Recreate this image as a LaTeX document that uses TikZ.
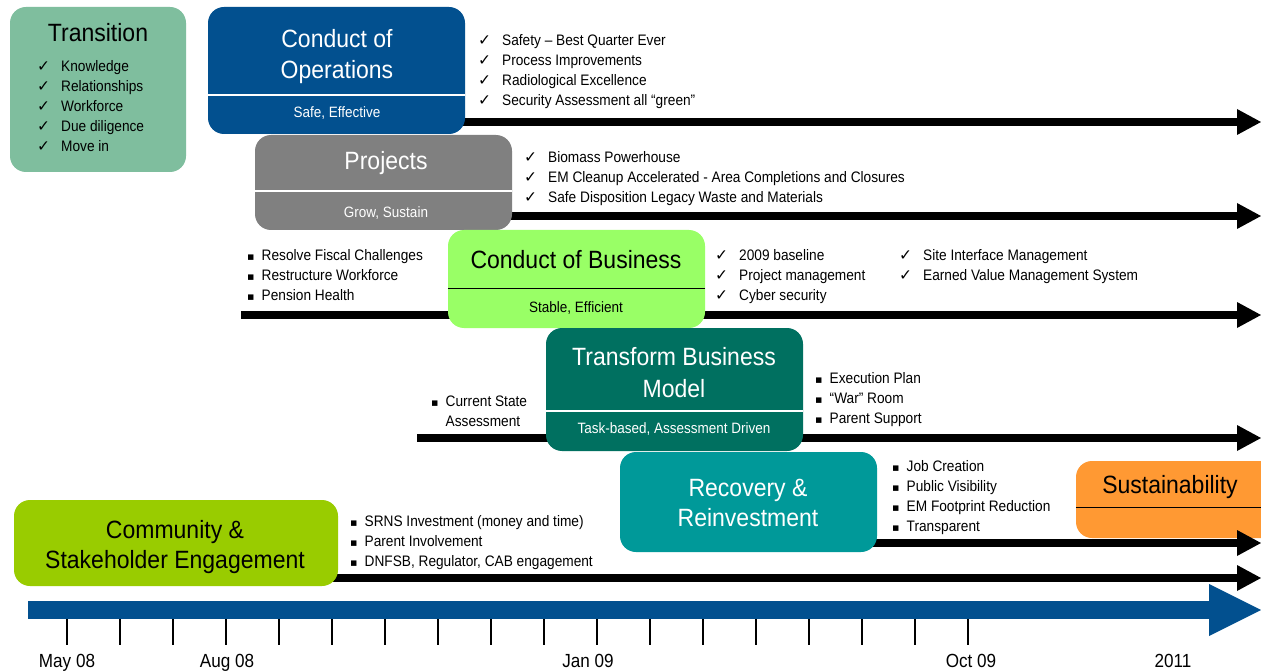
\documentclass[tikz,border=0pt]{standalone}
\usepackage{fontspec}
\setmainfont{Liberation Sans}[FakeStretch=0.9]
\newfontfamily\titlef{Liberation Sans}[FakeStretch=0.92]
\newfontfamily\symf{DejaVu Sans}
\usetikzlibrary{arrows.meta}
\definecolor{cTrans}{RGB}{127,190,158}
\definecolor{cCoO}{RGB}{2,80,143}
\definecolor{cProj}{RGB}{128,128,128}
\definecolor{cCoB}{RGB}{153,255,102}
\definecolor{cTBM}{RGB}{0,112,96}
\definecolor{cRec}{RGB}{0,153,153}
\definecolor{cSus}{RGB}{255,153,51}
\definecolor{cCom}{RGB}{153,204,0}
\definecolor{cAxis}{RGB}{2,80,143}
\newcommand\chkm{\makebox[24pt][l]{{\symf\fontsize{15.5}{15}\selectfont ✓}}}
\newcommand\bulm{\makebox[14.5pt][l]{{\symf\fontsize{11}{15}\selectfont ▪}}}
\tikzset{
  box/.style={rectangle, rounded corners=16pt, inner sep=0pt},
  ttl/.style={font=\titlef\fontsize{25}{30}\selectfont, anchor=base, inner sep=0pt},
  subt/.style={font=\fontsize{15}{18}\selectfont, anchor=base, inner sep=0pt},
  item/.style={font=\fontsize{15.2}{18}\selectfont, anchor=base west, inner sep=0pt},
  bar/.style={line width=8pt, black, -{Triangle[length=24pt,width=26pt,line width=0pt]}},
  axlab/.style={font=\fontsize{19}{22}\selectfont, anchor=base, inner sep=0pt},
}
\begin{document}
\begin{tikzpicture}[x=1pt,y=-1pt]
\useasboundingbox (0,0) rectangle (1261,671);
\fill[white] (0,0) rectangle (1261,671);
\clip (0,0) rectangle (1261,671);

% Sustainability box (below arrows)
\node[box, fill=cSus, minimum width=214pt, minimum height=77pt] (sus) at (1183,499.5) {};
\draw[line width=1pt] (sus.west |- 0,507) -- (sus.east |- 0,507);
\node[ttl] (sust) at (1170,493) {Sustainability};

% timeline bars
\coordinate (a1s) at (400,122); \coordinate (a1e) at (1261,122);
\coordinate (a2s) at (400,216); \coordinate (a2e) at (1261,216);
\coordinate (a3s) at (241,315); \coordinate (a3e) at (1261,315);
\coordinate (a4s) at (417,438); \coordinate (a4e) at (1261,438);
\coordinate (a5s) at (700,543); \coordinate (a5e) at (1261,543);
\coordinate (a6s) at (200,578); \coordinate (a6e) at (1261,578);
\draw[bar] (a1s) -- (a1e);
\draw[bar] (a2s) -- (a2e);
\draw[bar] (a3s) -- (a3e);
\draw[bar] (a4s) -- (a4e);
\draw[bar] (a5s) -- (a5e);
\draw[bar] (a6s) -- (a6e);

% Transition
\node[box, fill=cTrans, minimum width=176pt, minimum height=165pt] (tra) at (98,89.5) {};
\node[ttl] (trat) at (98,42) {Transition};
\foreach \t [count=\i] in {Knowledge, Relationships, Workforce, Due diligence, Move in}
  \node[item] (tr\i) at (37,51.5+20*\i) {\chkm\t};

% Conduct of Operations
\node[box, fill=cCoO, minimum width=257pt, minimum height=127pt] (coo) at (336.5,70.5) {};
\draw[white, line width=1.2pt] (coo.west |- 0,95) -- (coo.east |- 0,95);
\node[ttl, white] (coot1) at (337,48) {Conduct of};
\node[ttl, white] (coot2) at (337,79) {Operations};
\node[subt, white] (coos) at (337,118) {Safe, Effective};
\foreach \t [count=\i] in {Safety – Best Quarter Ever, Process Improvements, Radiological Excellence, Security Assessment all “green”}
  \node[item] (co\i) at (478,26+20*\i) {\chkm\t};

% Projects
\node[box, fill=cProj, minimum width=257pt, minimum height=95pt] (prj) at (383.5,182.5) {};
\draw[white, line width=1.2pt] (prj.west |- 0,191) -- (prj.east |- 0,191);
\node[ttl, white] (prjt) at (386,170) {Projects};
\node[subt, white] (prjs) at (386,218) {Grow, Sustain};
\foreach \t [count=\i] in {Biomass Powerhouse, EM Cleanup Accelerated - Area Completions and Closures, Safe Disposition Legacy Waste and Materials}
  \node[item] (pj\i) at (524,143+20*\i) {\chkm\t};

% Conduct of Business
\foreach \t [count=\i] in {Resolve Fiscal Challenges, Restructure Workforce, Pension Health}
  \node[item] (cbl\i) at (247,240+20*\i) {\bulm\t};
\node[box, fill=cCoB, minimum width=257pt, minimum height=98pt] (cob) at (576.5,279) {};
\draw[line width=1pt] (cob.west |- 0,288.5) -- (cob.east |- 0,288.5);
\node[ttl] (cobt) at (576,269) {Conduct of Business};
\node[subt] (cobs) at (576,312) {Stable, Efficient};
\foreach \t [count=\i] in {2009 baseline, Project management, Cyber security}
  \node[item] (cbr\i) at (715,240+20*\i) {\chkm\t};
\foreach \t [count=\i] in {Site Interface Management, Earned Value Management System}
  \node[item] (cbs\i) at (899,240+20*\i) {\chkm\t};

% Transform Business Model
\node[item] (tbl1) at (431,406) {\bulm Current State};
\node[item] (tbl2) at (445.5,426) {Assessment};
\node[box, fill=cTBM, minimum width=257pt, minimum height=123pt] (tbm) at (674.5,389.5) {};
\draw[white, line width=1.2pt] (tbm.west |- 0,411) -- (tbm.east |- 0,411);
\node[ttl, white] (tbmt1) at (674,365) {Transform Business};
\node[ttl, white] (tbmt2) at (674,397) {Model};
\node[subt, white] (tbms) at (674,433) {Task-based, Assessment Driven};
\foreach \t [count=\i] in {Execution Plan, “War” Room, Parent Support}
  \node[item] (tbr\i) at (815,363+20*\i) {\bulm\t};

% Recovery & Reinvestment
\node[box, fill=cRec, minimum width=257pt, minimum height=100pt] (rec) at (748.5,502) {};
\node[ttl, white] (rect1) at (748,496) {Recovery \&};
\node[ttl, white] (rect2) at (748,526) {Reinvestment};
\foreach \t [count=\i] in {Job Creation, Public Visibility, EM Footprint Reduction, Transparent}
  \node[item] (rc\i) at (892,452+19.8*\i) {\bulm\t};

% Community & Stakeholder Engagement
\node[box, fill=cCom, minimum width=324pt, minimum height=86pt] (com) at (176,543) {};
\node[ttl] (comt1) at (175,538) {Community \&};
\node[ttl] (comt2) at (175,568) {Stakeholder Engagement};
\foreach \t [count=\i] in {SRNS Investment (money and time), Parent Involvement, {DNFSB, Regulator, CAB engagement}}
  \node[item] (cm\i) at (350,506+20*\i) {\bulm\t};

% time axis
\coordinate (axs) at (28,610); \coordinate (axe) at (1261,610);
\draw[cAxis, line width=18pt, -{Triangle[length=52pt,width=52pt,line width=0pt]}] (axs) -- (axe);
\foreach \k in {0,...,17}
  \draw[line width=1.5pt] (67+53*\k,619) -- (67+53*\k,645);
\node[axlab] (l1) at (67,667) {May 08};
\node[axlab] (l2) at (227,667) {Aug 08};
\node[axlab] (l3) at (588,667) {Jan 09};
\node[axlab] (l4) at (971,667) {Oct 09};
\node[axlab] (l5) at (1173,667) {2011};
\end{tikzpicture}
\end{document}
